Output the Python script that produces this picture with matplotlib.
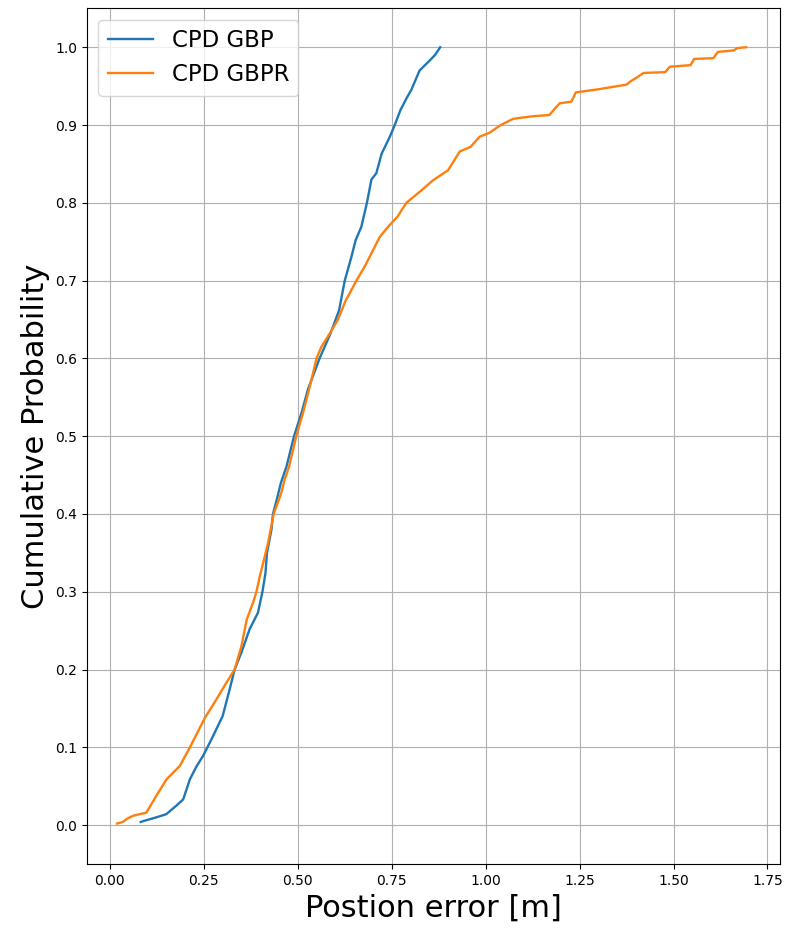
import matplotlib
matplotlib.use("Agg")
import matplotlib.pyplot as plt

# Empirical CDF knots: position error [m] and cumulative probability
gbp_err = [0.082, 0.095, 0.124, 0.150, 0.177, 0.195, 0.213, 0.230, 0.248, 0.270,
           0.300, 0.319, 0.332, 0.350, 0.372, 0.394, 0.406, 0.414, 0.418, 0.430,
           0.434, 0.445, 0.455, 0.470, 0.490, 0.510, 0.527, 0.558, 0.587, 0.610,
           0.625, 0.643, 0.654, 0.669, 0.684, 0.696, 0.709, 0.723, 0.745, 0.758,
           0.773, 0.790, 0.802, 0.824, 0.851, 0.865, 0.879]
gbp_prob = [0.004, 0.006, 0.010, 0.014, 0.025, 0.033, 0.059, 0.075, 0.089, 0.110,
            0.140, 0.175, 0.200, 0.222, 0.252, 0.273, 0.300, 0.324, 0.350, 0.380,
            0.400, 0.420, 0.440, 0.461, 0.500, 0.530, 0.560, 0.600, 0.632, 0.662,
            0.700, 0.731, 0.752, 0.769, 0.800, 0.830, 0.838, 0.863, 0.885, 0.900,
            0.919, 0.935, 0.945, 0.970, 0.983, 0.990, 1.000]

gbpr_err = [0.019, 0.035, 0.045, 0.062, 0.097, 0.124, 0.151, 0.186, 0.213, 0.253,
            0.284, 0.310, 0.332, 0.350, 0.364, 0.381, 0.390, 0.399, 0.410, 0.421,
            0.436, 0.456, 0.465, 0.477, 0.496, 0.514, 0.530, 0.550, 0.563, 0.585,
            0.607, 0.628, 0.634, 0.656, 0.678, 0.696, 0.718, 0.740, 0.765, 0.789,
            0.829, 0.860, 0.900, 0.931, 0.960, 0.984, 1.010, 1.040, 1.073, 1.120,
            1.170, 1.182, 1.197, 1.228, 1.240, 1.300, 1.375, 1.385, 1.405, 1.420,
            1.478, 1.490, 1.545, 1.555, 1.606, 1.618, 1.660, 1.670, 1.693]
gbpr_prob = [0.002, 0.004, 0.008, 0.012, 0.016, 0.038, 0.059, 0.076, 0.100, 0.138,
             0.162, 0.183, 0.200, 0.230, 0.264, 0.286, 0.300, 0.320, 0.341, 0.363,
             0.400, 0.427, 0.444, 0.461, 0.500, 0.530, 0.560, 0.600, 0.615, 0.632,
             0.650, 0.675, 0.680, 0.700, 0.718, 0.735, 0.756, 0.769, 0.782, 0.800,
             0.816, 0.829, 0.842, 0.866, 0.872, 0.885, 0.890, 0.900, 0.908, 0.911,
             0.913, 0.920, 0.928, 0.930, 0.942, 0.946, 0.952, 0.956, 0.962, 0.967,
             0.968, 0.975, 0.977, 0.985, 0.986, 0.994, 0.996, 0.999, 1.000]

labels = ["CPD GBP", "CPD GBPR"]

fig = plt.figure(figsize=(7.87, 9.31), dpi=100)
ax = fig.add_axes([0.1105, 0.072, 0.880, 0.919])

ax.plot(gbp_err, gbp_prob, color="#1f77b4", lw=1.7, label=labels[0])
ax.plot(gbpr_err, gbpr_prob, color="#ff7f0e", lw=1.7, label=labels[1])

ax.set_xticks([0.0, 0.25, 0.5, 0.75, 1.0, 1.25, 1.5, 1.75])
ax.set_yticks([i / 10 for i in range(11)])
ax.set_xlim(-0.061, 1.782)
ax.set_ylim(-0.05, 1.05)
ax.tick_params(labelsize=10)
ax.grid(True)

ax.set_xlabel("Postion error [m]", fontsize=22)
ax.set_ylabel("Cumulative Probability", fontsize=22)
ax.legend(loc="upper left", fontsize=16.5)

fig.savefig("out.png", dpi=100)
